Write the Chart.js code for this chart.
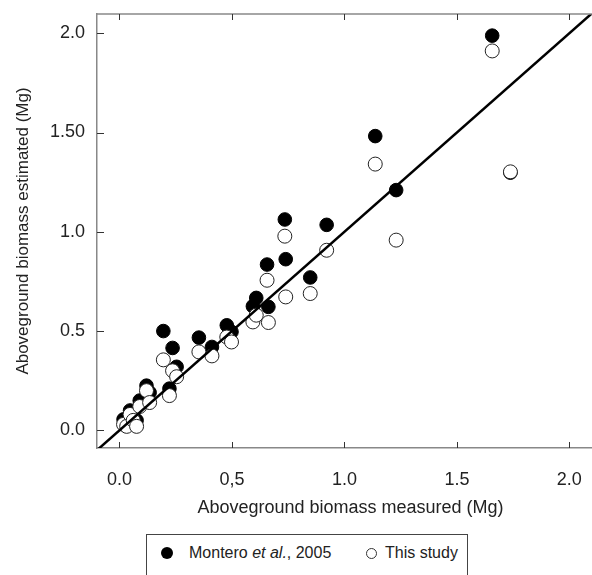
<!DOCTYPE html>
<html>
<head>
<meta charset="utf-8">
<script src="https://cdn.jsdelivr.net/npm/chart.js@4.4.1/dist/chart.umd.min.js"></script>
<style>
  html, body { margin: 0; padding: 0; background: #fff; overflow: hidden; }
  #wrap { position: relative; width: 592px; height: 575px; overflow: hidden; }
  #chart { position: absolute; left: 0; top: 0; }
  #legend {
    position: absolute; left: 146px; top: 534px; width: 322px; height: 50px;
    border: 1.5px solid #444; box-sizing: border-box;
    font-family: 'Liberation Sans Narrow', 'Liberation Sans', Arial, sans-serif;
    font-size: 16px; color: #222;
  }
  #legend .item { position: absolute; top: 9px; white-space: nowrap; }
  #legend .dot { display: inline-block; width: 12px; height: 12px; border-radius: 50%;
    box-sizing: border-box; vertical-align: -1px; }
  #legend .filled { background: #000; margin-right: 16px; }
  #legend .open { background: #fff; border: 1px solid #333; width: 11px; height: 11px; margin-right: 8px; }
</style>
</head>
<body>
<div id="wrap">
  <canvas id="chart" width="612" height="530"></canvas>
  <div id="legend">
    <span class="item" style="left:14px"><span class="dot filled"></span>Montero <i>et al.</i>, 2005</span>
    <span class="item" style="left:219px"><span class="dot open"></span>This study</span>
  </div>
</div>
<script>
// measured biomass (Mg) and the two estimates for the same trees
const measured = [0.018, 0.032, 0.047, 0.061, 0.076, 0.09, 0.12, 0.134, 0.195, 0.222, 0.236, 0.254, 0.353, 0.411,
  0.477, 0.498, 0.593, 0.608, 0.656, 0.662, 0.735, 0.739, 0.848, 0.921, 1.137, 1.23, 1.657, 1.738];
const montero = [0.055, 0.04, 0.10, 0.07, 0.05, 0.15, 0.225, 0.19, 0.50, 0.21, 0.415, 0.32, 0.467, 0.42,
  0.529, 0.496, 0.625, 0.667, 0.835, 0.622, 1.062, 0.862, 0.770, 1.035, 1.482, 1.21, 1.988, 1.298];
const thisStudy = [0.03, 0.02, 0.08, 0.05, 0.02, 0.12, 0.20, 0.14, 0.355, 0.175, 0.30, 0.27, 0.395, 0.375,
  0.47, 0.445, 0.546, 0.58, 0.756, 0.543, 0.978, 0.672, 0.689, 0.907, 1.341, 0.958, 1.911, 1.302];

// 1:1 line
const lineX = [-0.1, 2.2];
const lineY = [-0.1, 2.2];

const xTickValues = [0, 0.5, 1, 1.5, 2];
const xTickLabels = ['0.0', '0,5', '1.0', '1.5', '2.0'];
const yTickValues = [0, 0.5, 1, 1.5, 2];
const yTickLabels = ['0.0', '0.5', '1.0', '1.50', '2.0'];

Chart.defaults.font.family = "'Liberation Sans Narrow', 'Liberation Sans', Arial, sans-serif";
Chart.defaults.color = '#222';

const toPoints = (xs, ys) => xs.map((x, i) => ({x: x, y: ys[i]}));

// no extra room for edge labels, the frame is fixed
const noEdgePadding = s => {
  s.paddingTop = 0; s.paddingBottom = 0; s.paddingLeft = 0; s.paddingRight = 0;
};

// ticks point inward, plus the top frame line
const innerTicks = {
  id: 'innerTicks',
  afterDraw(chart) {
    const {ctx, chartArea: a, scales: {x, y}} = chart;
    ctx.save();
    ctx.strokeStyle = '#888';
    ctx.lineWidth = 1.5;
    ctx.beginPath();
    ctx.moveTo(a.left, a.top);
    ctx.lineTo(a.right, a.top);
    ctx.stroke();
    ctx.strokeStyle = '#333';
    ctx.lineWidth = 1;
    ctx.beginPath();
    xTickValues.forEach(v => {
      const px = Math.round(x.getPixelForValue(v)) + 0.5;
      ctx.moveTo(px, a.bottom); ctx.lineTo(px, a.bottom - 6);
      ctx.moveTo(px, a.top); ctx.lineTo(px, a.top + 6);
    });
    yTickValues.forEach(v => {
      const py = Math.round(y.getPixelForValue(v)) + 0.5;
      ctx.moveTo(a.left, py); ctx.lineTo(a.left + 7, py);
    });
    ctx.stroke();
    ctx.restore();
  }
};

new Chart(document.getElementById('chart'), {
  type: 'scatter',
  data: {
    datasets: [
      {
        type: 'line',
        label: '1:1',
        data: toPoints(lineX, lineY),
        borderColor: '#000',
        borderWidth: 2.5,
        pointRadius: 0,
        order: 0
      },
      {
        label: 'This study',
        data: toPoints(measured, thisStudy),
        backgroundColor: '#fff',
        borderColor: '#222',
        borderWidth: 1,
        pointRadius: 7,
        order: 1
      },
      {
        label: 'Montero et al., 2005',
        data: toPoints(measured, montero),
        backgroundColor: '#000',
        borderColor: '#000',
        borderWidth: 1,
        pointRadius: 6.8,
        order: 2
      }
    ]
  },
  options: {
    responsive: false,
    animation: false,
    events: [],
    layout: {padding: {top: 14, right: 0, left: 0, bottom: 0}},
    plugins: {
      legend: {display: false},
      tooltip: {enabled: false}
    },
    scales: {
      x: {
        type: 'linear',
        min: -0.1,
        max: 2.154,
        afterBuildTicks: s => { s.ticks = xTickValues.map(v => ({value: v})); },
        afterFit: s => { s.height = 82; noEdgePadding(s); },
        ticks: {
          padding: 21,
          font: {size: 18},
          color: '#222',
          callback: (v, i) => xTickLabels[i]
        },
        grid: {drawOnChartArea: false, drawTicks: false},
        border: {display: true, color: '#888', width: 1.5},
        title: {
          display: true,
          text: 'Aboveground biomass measured (Mg)',
          font: {size: 18},
          color: '#222',
          padding: {top: 0, bottom: 11}
        }
      },
      y: {
        type: 'linear',
        min: -0.089,
        max: 2.097,
        afterBuildTicks: s => { s.ticks = yTickValues.map(v => ({value: v})); },
        afterFit: s => { s.width = 97; noEdgePadding(s); },
        ticks: {
          padding: 12,
          font: {size: 18},
          color: '#222',
          callback: (v, i) => yTickLabels[i]
        },
        grid: {drawOnChartArea: false, drawTicks: false},
        border: {display: true, color: '#888', width: 1.5},
        title: {
          display: true,
          text: 'Aboveground biomass estimated (Mg)',
          font: {size: 17},
          color: '#222',
          padding: {top: 13, bottom: 0}
        }
      }
    }
  },
  plugins: [innerTicks]
});
</script>
</body>
</html>
